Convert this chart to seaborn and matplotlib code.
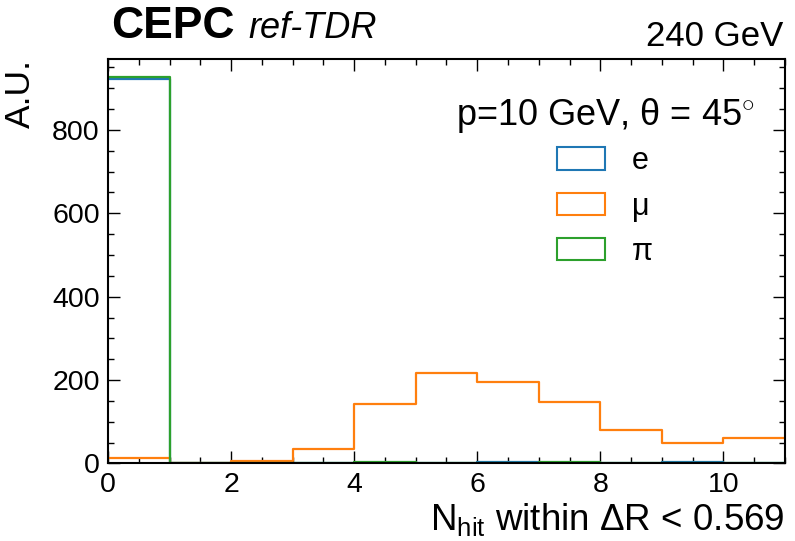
import numpy as np
import pandas as pd
import matplotlib
matplotlib.use("Agg")
import matplotlib.pyplot as plt
from matplotlib.patches import Patch
from matplotlib.ticker import MultipleLocator
import seaborn as sns

# ---- data ----
bin_edges = list(range(0, 12))
particles = ["e", "μ", "π"]
e_counts = [921, 0, 0, 0, 0, 0, 3, 0, 0, 3, 0]
mu_counts = [12, 1, 5, 35, 142, 217, 195, 148, 81, 48, 60]
pi_counts = [927, 0, 0, 0, 3, 0, 0, 3, 0, 0, 0]
colors = ["#1f77b4", "#ff7f0e", "#2ca02c"]
x_ticks = [0, 2, 4, 6, 8, 10]
y_ticks = [0, 200, 400, 600, 800]

centers = [(a + b) / 2 for a, b in zip(bin_edges[:-1], bin_edges[1:])]
rows = []
for name, counts in zip(particles, [e_counts, mu_counts, pi_counts]):
    for c, w in zip(centers, counts):
        rows.append({"x": c, "w": w, "particle": name})
df = pd.DataFrame(rows)

sns.set_style("ticks")
plt.rcParams["font.family"] = ["Liberation Sans", "DejaVu Sans"]
plt.rcParams["mathtext.fontset"] = "custom"
plt.rcParams["mathtext.rm"] = "Liberation Sans"
plt.rcParams["mathtext.it"] = "Liberation Sans:italic"
plt.rcParams["mathtext.bf"] = "Liberation Sans:bold"
for k in ["text.color", "axes.labelcolor", "xtick.color", "ytick.color", "axes.edgecolor"]:
    plt.rcParams[k] = "black"

fig = plt.figure(figsize=(7.95, 5.41), dpi=100)
ax = fig.add_axes([0.1358, 0.1433, 0.8516, 0.7476])

sns.histplot(data=df, x="x", weights="w", hue="particle", hue_order=particles,
             bins=bin_edges, element="step", fill=False, palette=colors,
             linewidth=1.6, legend=False, ax=ax)
# draw pi on top, then mu, then e (as in the reference)
for line in ax.lines:
    c = matplotlib.colors.to_hex(line.get_color())
    line.set_zorder({colors[0]: 2.0, colors[1]: 2.1, colors[2]: 2.2}.get(c, 2))

ax.set_xlim(0, 11)
ax.set_ylim(0, 970)
ax.set_xticks(x_ticks)
ax.set_yticks(y_ticks)
ax.xaxis.set_minor_locator(MultipleLocator(0.5))
ax.yaxis.set_minor_locator(MultipleLocator(50))
ax.tick_params(which="both", direction="in", top=True, right=True, labelsize=20.5,
               width=1.0, color="black")
ax.tick_params(which="major", length=8.5, pad=6)
ax.tick_params(which="minor", length=4.5)
for s in ax.spines.values():
    s.set_linewidth(1.5)
    s.set_color("black")

ax.set_xlabel(r"N$_{\mathrm{hit}}$ within ΔR < 0.569", fontsize=26.5, ha="right")
ax.xaxis.set_label_coords(1.0, -0.093)
ax.set_ylabel("A.U.", fontsize=25.5, ha="right")
ax.yaxis.set_label_coords(-0.105, 1.0)

fig.text(111 / 795, 1 - 38.5 / 541, "CEPC", fontsize=32, fontweight="bold", va="baseline")
fig.text(248 / 795, 1 - 38.5 / 541, "ref-TDR", fontsize=26, fontstyle="italic", va="baseline")
fig.text(783 / 795, 1 - 46.5 / 541, "240 GeV", fontsize=25, ha="right", va="baseline")

handles = [Patch(facecolor="none", edgecolor=c, linewidth=1.5) for c in colors]
leg = ax.legend(handles, particles, title="p=10 GeV, θ = 45$^{\\circ}$",
                loc="upper right", bbox_to_anchor=(0.955, 0.908), borderaxespad=0,
                borderpad=0, frameon=False, fontsize=22, title_fontsize=26,
                handlelength=1.55, handleheight=0.75, handletextpad=0.9,
                labelspacing=0.5)
leg._legend_box.sep = 8

fig.savefig("out.png", dpi=100)
